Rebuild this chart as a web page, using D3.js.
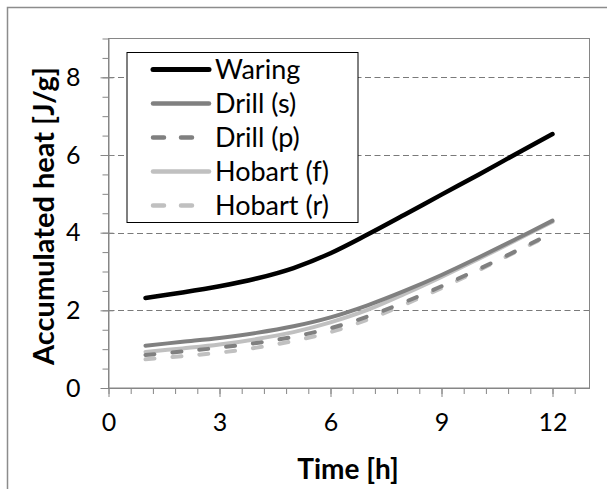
<!DOCTYPE html>
<html>
<head>
<meta charset="utf-8">
<script src="https://cdn.jsdelivr.net/npm/d3@7/dist/d3.min.js"></script>
<style>
  html, body { margin: 0; padding: 0; background: #fff; }
  svg { display: block; }
</style>
</head>
<body>
<svg id="chart" width="607" height="489"></svg>
<script>
// ---------------- data ----------------
const hours = [1, 2, 3, 4, 5, 6, 7, 8, 9, 10, 11, 12];
const waring   = [2.32, 2.46, 2.62, 2.82, 3.09, 3.47, 3.95, 4.46, 4.98, 5.49, 6.02, 6.54];
const drillS   = [1.09, 1.19, 1.29, 1.42, 1.59, 1.82, 2.13, 2.50, 2.91, 3.36, 3.83, 4.31];
const drillP   = [0.85, 0.94, 1.04, 1.16, 1.32, 1.54, 1.84, 2.21, 2.62, 3.06, 3.52, 4.00];
const hobartF  = [0.93, 1.02, 1.12, 1.26, 1.44, 1.69, 2.01, 2.42, 2.86, 3.32, 3.80, 4.28];
const hobartR  = [0.74, 0.82, 0.91, 1.04, 1.21, 1.44, 1.76, 2.15, 2.57, 3.03, 3.50, 3.98];
const seriesNames = ["Waring", "Drill (s)", "Drill (p)", "Hobart (f)", "Hobart (r)"];
const xTickLabels = [0, 3, 6, 9, 12];
const yTickLabels = [0, 2, 4, 6, 8];
const xTitle = "Time [h]";
const yTitle = "Accumulated heat [J/g]";

// ---------------- styles ----------------
const styles = [
  { color: "#000000", width: 4.5, dash: null },
  { color: "#808080", width: 4,   dash: null },
  { color: "#808080", width: 4,   dash: "9,18" },
  { color: "#c0c0c0", width: 4,   dash: null },
  { color: "#c0c0c0", width: 4,   dash: "9,18" }
];
const seriesValues = [waring, drillS, drillP, hobartF, hobartR];
const series = seriesNames.map((name, i) => ({
  name, style: styles[i],
  values: hours.map((h, j) => ({ x: h, y: seriesValues[i][j] }))
}));

const FONT = "Lato, 'Open Sans', sans-serif";
const axisColor = "#868686";

const svg = d3.select("#chart");

// outer chart border (only top/left visible in frame)
svg.append("rect")
  .attr("x", 7.5).attr("y", 7.5)
  .attr("width", 640).attr("height", 520)
  .attr("fill", "none").attr("stroke", "#8c8c8c").attr("stroke-width", 1.5);

const plot = { left: 108.5, right: 589.5, top: 38.5, bottom: 388 };
const x = d3.scaleLinear().domain([0, 13]).range([plot.left, plot.right]);
const y = d3.scaleLinear().domain([0, 9]).range([plot.bottom, plot.top]);

// gridlines (major)
svg.append("g").selectAll("line")
  .data(yTickLabels.filter(v => v > 0))
  .join("line")
  .attr("x1", plot.left).attr("x2", plot.right)
  .attr("y1", d => Math.round(y(d)) + 0.5).attr("y2", d => Math.round(y(d)) + 0.5)
  .attr("stroke", "#7a7a7a").attr("stroke-width", 1)
  .attr("stroke-dasharray", "6,3.5");

// plot-area border
svg.append("rect")
  .attr("x", plot.left).attr("y", plot.top)
  .attr("width", plot.right - plot.left).attr("height", plot.bottom - plot.top)
  .attr("fill", "none").attr("stroke", axisColor).attr("stroke-width", 1);

// minor ticks y (every 0.5) outside
const yMinor = d3.range(0, 9.01, 0.5);
svg.append("g").attr("transform", `translate(${plot.left},0)`)
  .call(d3.axisLeft(y).tickValues(yMinor).tickSize(6).tickFormat(""))
  .call(g => g.select(".domain").remove())
  .call(g => g.selectAll("line").attr("stroke", axisColor));
// major ticks y crossing
svg.append("g").attr("transform", `translate(${plot.left},0)`)
  .call(d3.axisLeft(y).tickValues(yTickLabels).tickSizeInner(8).tickSizeOuter(0).tickPadding(20).tickFormat(d3.format("d")))
  .call(g => g.select(".domain").attr("stroke", axisColor))
  .call(g => g.selectAll(".tick line").attr("stroke", axisColor).attr("x2", -8).attr("x1", 5))
  .call(g => g.selectAll("text").attr("font-family", FONT).attr("font-size", 25).attr("fill", "#000"));

// minor ticks x (every 0.6)
const xMinor = d3.range(0, 13, 0.6);
svg.append("g").attr("transform", `translate(0,${plot.bottom})`)
  .call(d3.axisBottom(x).tickValues(xMinor).tickSize(6).tickFormat(""))
  .call(g => g.select(".domain").remove())
  .call(g => g.selectAll("line").attr("stroke", axisColor));
svg.append("g").attr("transform", `translate(0,${plot.bottom})`)
  .call(d3.axisBottom(x).tickValues(xTickLabels).tickSizeInner(9).tickSizeOuter(0).tickPadding(16).tickFormat(d3.format("d")))
  .call(g => g.select(".domain").attr("stroke", axisColor))
  .call(g => g.selectAll(".tick line").attr("stroke", axisColor))
  .call(g => g.selectAll("text").attr("font-family", FONT).attr("font-size", 25).attr("fill", "#000"));

// lines
const line = d3.line().x(d => x(d.x)).y(d => y(d.y)).curve(d3.curveCardinal.tension(0));
svg.append("g").selectAll("path")
  .data(series.slice().reverse())
  .join("path")
  .attr("d", d => line(d.values))
  .attr("fill", "none")
  .attr("stroke", d => d.style.color)
  .attr("stroke-width", d => d.style.width)
  .attr("stroke-linecap", "round")
  .attr("stroke-linejoin", "round")
  .attr("stroke-dasharray", d => d.style.dash);

// legend
const leg = { x: 127, y: 52.5, w: 231, h: 170, rowY0: 69.5, rowStep: 34, lineX1: 153, lineX2: 209, textX: 215 };
svg.append("rect")
  .attr("x", leg.x).attr("y", leg.y).attr("width", leg.w).attr("height", leg.h)
  .attr("fill", "#fff").attr("stroke", "#000").attr("stroke-width", 1);
const rows = svg.append("g").selectAll("g").data(series).join("g")
  .attr("transform", (d, i) => `translate(0,${leg.rowY0 + i * leg.rowStep})`);
rows.append("line")
  .attr("x1", leg.lineX1).attr("x2", leg.lineX2)
  .attr("stroke", d => d.style.color).attr("stroke-width", d => d.style.width + 0.5)
  .attr("stroke-linecap", "round")
  .attr("stroke-dasharray", d => d.style.dash ? "11,17" : null);
rows.append("text")
  .attr("x", leg.textX).attr("y", 0).attr("dy", "0.36em")
  .attr("font-family", FONT).attr("font-size", 27).attr("fill", "#000")
  .text(d => d.name);

// axis titles
svg.append("text")
  .attr("x", 348).attr("y", 469).attr("dy", "0.36em")
  .attr("text-anchor", "middle")
  .attr("font-family", FONT).attr("font-size", 28).attr("font-weight", "bold")
  .text(xTitle);
svg.append("text")
  .attr("transform", "translate(44,216) rotate(-90)")
  .attr("dy", "0.36em")
  .attr("text-anchor", "middle")
  .attr("font-family", FONT).attr("font-size", 29).attr("font-weight", "bold")
  .text(yTitle);
</script>
</body>
</html>
